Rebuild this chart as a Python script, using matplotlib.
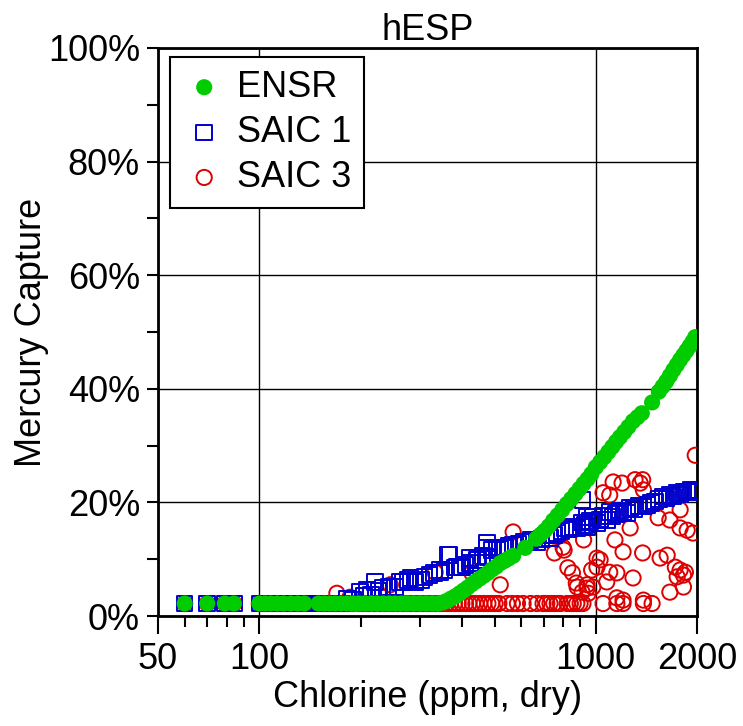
import matplotlib
matplotlib.use("Agg")
import matplotlib.pyplot as plt
from matplotlib.ticker import FixedLocator, NullFormatter, FuncFormatter

plt.rcParams['font.family'] = ['Liberation Sans', 'DejaVu Sans']

# chlorine values shared by the flat low part of all three series
low_x = [60, 70, 79, 84, 100, 104, 108, 113, 118, 124, 130, 136,
         150, 156, 162, 168, 175]

# ENSR (green dots)
ensr_x = low_x + [182, 190, 198, 206, 215, 224, 233, 243, 253, 264, 275, 287,
                  300, 313, 327, 340, 352, 362, 372, 383, 394, 405, 416, 428,
                  440, 452, 465, 478, 492, 506, 520, 535, 550, 568, 617, 665,
                  685, 705, 725, 747, 770, 795, 820, 845, 870, 895, 920, 945,
                  970, 1000, 1030, 1060, 1090, 1120, 1150, 1180, 1215, 1250,
                  1290, 1330, 1370, 1470, 1540, 1580, 1620, 1660, 1700, 1740,
                  1780, 1820, 1860, 1900, 1940, 1975]
ensr_y = [2.2] * len(low_x) + [2.2, 2.2, 2.2, 2.2, 2.2, 2.2, 2.2, 2.2, 2.2, 2.2,
                               2.2, 2.2, 2.2, 2.2, 2.2, 2.2, 2.4, 2.7, 3.1, 3.5,
                               4.0, 4.5, 5.0, 5.6, 6.1, 6.6, 7.1, 7.6, 8.2, 8.7,
                               9.3, 9.7, 10.1, 10.6, 12.0, 13.6, 14.3, 15.0, 15.8,
                               16.8, 17.7, 18.7, 19.7, 20.6, 21.5, 22.4, 23.3,
                               24.1, 25.0, 26.2, 27.1, 28.0, 28.9, 29.8, 30.7,
                               31.5, 32.4, 33.3, 34.3, 35.0, 35.7, 37.6, 39.5,
                               40.4, 41.3, 42.3, 43.3, 44.2, 45.1, 45.9, 46.7,
                               47.5, 48.3, 49.1]

# SAIC 1 (blue squares)
saic1_x = low_x + [182, 190, 199, 205, 209, 215, 221, 226, 232, 242, 253, 262,
                   266, 277, 281, 290, 302, 310, 320, 331, 344, 344, 355, 364,
                   368, 381, 387, 395, 400, 410, 423, 423, 444, 447, 460, 475,
                   475, 478, 492, 509, 509, 520, 538, 553, 568, 590, 610, 640,
                   668, 690, 710, 730, 750, 766, 790, 809, 830, 855, 880, 910,
                   913, 930, 942, 942, 960, 980, 1008, 1030, 1050, 1078, 1100,
                   1120, 1150, 1180, 1210, 1240, 1265, 1300, 1340, 1380, 1425,
                   1460, 1500, 1540, 1580, 1620, 1660, 1700, 1745, 1780, 1822,
                   1870, 1920, 1975, 1990]
saic1_y = [2.2] * len(low_x) + [3.0, 2.8, 4.2, 3.5, 4.6, 3.8, 6.0, 4.5, 4.9, 5.1,
                                5.1, 6.0, 6.0, 6.3, 6.7, 6.0, 6.3, 6.9, 7.2, 7.6,
                                7.7, 8.1, 8.0, 10.7, 10.7, 8.5, 8.6, 8.6, 8.5,
                                9.0, 9.3, 10.2, 9.9, 9.9, 10.6, 12.9, 12.1, 10.4,
                                11.6, 12.1, 11.6, 11.8, 12.0, 12.3, 12.5, 12.8,
                                13.0, 13.4, 13.0, 13.6, 14.2, 13.7, 14.3, 14.6,
                                15.0, 15.5, 15.2, 15.7, 15.4, 16.5, 20.4, 16.0,
                                17.4, 15.7, 16.7, 17.4, 16.4, 17.0, 17.6, 16.9,
                                18.3, 17.5, 18.0, 18.6, 18.3, 18.1, 19.0, 18.8,
                                19.4, 19.3, 19.5, 19.9, 20.2, 20.6, 21.0, 20.7,
                                21.3, 21.0, 21.7, 21.4, 21.8, 21.9, 22.2, 22.2,
                                21.8]

# SAIC 3 (red open circles): bottom row first, then scattered points
saic3_base_x = low_x + [182, 190, 198, 205, 212, 220, 228, 235, 243, 250, 258,
                        266, 275, 283, 292, 300, 308, 316, 325, 334, 343, 352,
                        361, 370, 380, 390, 400, 410, 420, 430, 440, 452, 465,
                        478, 490, 502, 515, 545, 565, 585, 608, 640, 669, 697,
                        715, 731, 750, 768, 785, 822, 840, 857, 878, 898, 916,
                        1051, 1155, 1205, 1385, 1470]
saic3_base_y = [2.2] * len(saic3_base_x)
saic3_x = saic3_base_x + [170, 186, 245, 333, 428, 520, 568, 753, 799, 805, 826,
                          852, 875, 880, 942, 910, 950, 920, 1975, 1126, 1197,
                          1308, 1378, 1355, 1051, 1100, 1385, 1781, 1532, 1660,
                          1781, 1869, 1945, 1265, 1140, 1205, 1378, 1008, 1030,
                          1553, 1630, 1008, 972, 1723, 1781, 1846, 1822, 1100,
                          1155, 1745, 1078, 1290, 942, 980, 1822, 1660, 1155,
                          1385, 1205]
saic3_y = saic3_base_y + [4.0, 3.3, 5.5, 7.7, 7.6, 5.5, 14.8, 11.1, 12.1, 11.6,
                          8.5, 7.6, 5.8, 5.1, 4.9, 4.2, 4.0, 13.4, 28.3, 23.6,
                          23.4, 24.0, 24.0, 23.4, 21.7, 21.3, 22.2, 18.7, 17.3,
                          16.9, 15.5, 15.1, 14.6, 15.5, 13.4, 11.3, 11.1, 10.2,
                          9.9, 10.2, 10.7, 8.6, 8.1, 8.6, 8.1, 7.7, 7.2, 7.7,
                          7.6, 6.9, 6.0, 6.7, 5.5, 5.1, 5.1, 4.2, 3.2, 2.8, 2.8]

x_ticks = [50, 100, 1000, 2000]
y_ticks = [0, 20, 40, 60, 80, 100]

fig = plt.figure(figsize=(7.43, 7.26), dpi=100)
ax = fig.add_axes([0.2127, 0.1515, 0.7255, 0.7824])

ax.scatter(saic3_x, saic3_y, s=120, facecolors='none', edgecolors='#dd0000',
           linewidths=1.4, label='SAIC 3', zorder=3)
ax.scatter(saic1_x, saic1_y, s=125, marker='s', facecolors='none',
           edgecolors='#0000cc', linewidths=1.4, label='SAIC 1', zorder=4)
ax.scatter(ensr_x, ensr_y, s=135, color='#00cc00', edgecolors='none',
           label='ENSR', zorder=5)

ax.set_xscale('log')
ax.set_xlim(50, 2000)
ax.set_ylim(0, 100)

ax.xaxis.set_major_locator(FixedLocator(x_ticks))
ax.xaxis.set_major_formatter(FuncFormatter(lambda v, p: f"{v:g}"))
ax.xaxis.set_minor_locator(FixedLocator([60, 70, 80, 90, 200, 300, 400, 500,
                                         600, 700, 800, 900]))
ax.xaxis.set_minor_formatter(NullFormatter())
ax.yaxis.set_major_locator(FixedLocator(y_ticks))
ax.yaxis.set_major_formatter(FuncFormatter(lambda v, p: f"{v:.0f}%"))
ax.yaxis.set_minor_locator(FixedLocator([10, 30, 50, 70, 90]))

ax.tick_params(axis='both', which='major', labelsize=26, width=1.5, direction='out')
ax.tick_params(axis='x', which='major', length=13, pad=6)
ax.tick_params(axis='x', which='minor', length=8, width=1.5)
ax.tick_params(axis='y', which='major', length=8, pad=5)
ax.tick_params(axis='y', which='minor', length=8, width=1.5)

ax.grid(True, which='major', color='black', linewidth=1.0)
for s in ax.spines.values():
    s.set_linewidth(2)

ax.set_title('hESP', fontsize=26, pad=4)
ax.set_xlabel('Chlorine (ppm, dry)', fontsize=26, labelpad=2)
ax.set_ylabel('Mercury Capture', fontsize=26, labelpad=-1)

handles, labels = ax.get_legend_handles_labels()
order = [2, 1, 0]
leg = ax.legend([handles[i] for i in order], [labels[i] for i in order],
                loc='upper left', bbox_to_anchor=(0.022, 0.984), fontsize=26,
                frameon=True, fancybox=False, edgecolor='black',
                framealpha=1, borderpad=0.35, labelspacing=0.28,
                handletextpad=0.3, handlelength=1.2, borderaxespad=0,
                markerscale=1.0)
leg.get_frame().set_linewidth(1.5)

fig.savefig('out.png', dpi=100)
